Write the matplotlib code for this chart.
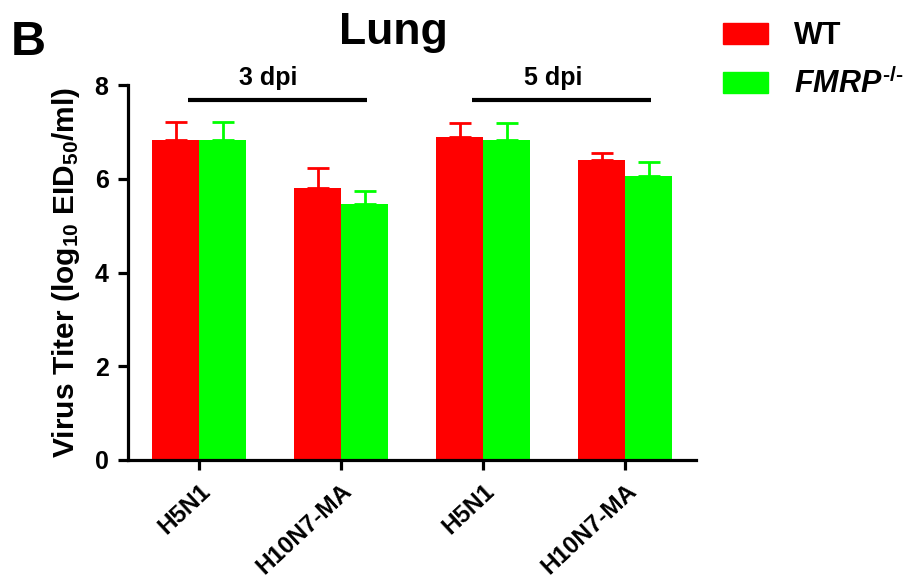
import numpy as np
import matplotlib
matplotlib.use("Agg")
import matplotlib.pyplot as plt
from matplotlib.patches import Patch

plt.rcParams["font.family"] = ["Liberation Sans", "DejaVu Sans"]
plt.rcParams["font.weight"] = "bold"
plt.rcParams["mathtext.fontset"] = "custom"
plt.rcParams["mathtext.rm"] = "Liberation Sans:bold"
plt.rcParams["mathtext.it"] = "Liberation Sans:italic:bold"
plt.rcParams["mathtext.bf"] = "Liberation Sans:bold"

# data
viruses = ["H5N1", "H10N7-MA", "H5N1", "H10N7-MA"]
timepoints = ["3 dpi", "5 dpi"]
wt_mean = [6.82, 5.81, 6.89, 6.40]
wt_err = [0.40, 0.41, 0.31, 0.16]
ko_mean = [6.82, 5.47, 6.82, 6.06]
ko_err = [0.40, 0.27, 0.38, 0.30]

red = "#ff0000"
green = "#00ff00"

fig = plt.figure(figsize=(9.21, 5.88), dpi=100)
ax = fig.add_axes([0.139, 0.2177, 0.617, 0.6377])

x = np.arange(len(viruses))
w = 0.331
ax.bar(x - w / 2, wt_mean, w, color=red)
ax.bar(x + w / 2, ko_mean, w, color=green)
ax.errorbar(x - w / 2, wt_mean, yerr=[np.zeros(4), wt_err], fmt="none",
            ecolor=red, elinewidth=2, capsize=8, capthick=2)
ax.errorbar(x + w / 2, ko_mean, yerr=[np.zeros(4), ko_err], fmt="none",
            ecolor=green, elinewidth=2, capsize=8, capthick=2)

# time point brackets
for i, tp in enumerate(timepoints):
    x0 = 2 * i - 0.08
    x1 = 2 * i + 1.18
    ax.plot([x0, x1], [7.67, 7.67], color="black", lw=3, clip_on=False,
            solid_capstyle="butt")
    ax.text((x0 + x1) / 2 - 0.06, 8.15, tp, ha="center", va="center",
            fontsize=18, fontweight="bold", clip_on=False)

ax.set_xlim(-0.5, 3.5)
ax.set_ylim(0, 8)
ax.set_yticks([0, 2, 4, 6, 8])
ax.set_xticks(x)
ax.set_xticklabels(viruses, rotation=43, ha="right", rotation_mode="anchor",
                   fontsize=17.5, fontweight="bold")
for lab in ax.get_yticklabels():
    lab.set_fontsize(18)
    lab.set_fontweight("bold")
for s in ["top", "right"]:
    ax.spines[s].set_visible(False)
for s in ["left", "bottom"]:
    ax.spines[s].set_linewidth(2.3)
ax.tick_params(width=2.3, length=7)
ax.tick_params(axis="y", pad=7)
ax.tick_params(axis="x", pad=7)
ax.set_ylabel("Virus Titer (log$_{10}$ EID$_{50}$/ml)", fontsize=21.5,
              fontweight="bold", labelpad=9)

fig.text(0.427, 0.945, "Lung", fontsize=32, fontweight="bold",
         ha="center", va="center")
fig.text(0.012, 0.927, "B", fontsize=35, fontweight="bold", va="center")

handles = [Patch(color=red), Patch(color=green)]
fig.legend(handles, ["WT", r"$\mathit{FMRP}^{\mathit{\text{-/-}}}$"],
           loc="upper left", bbox_to_anchor=(0.762, 1.0), frameon=False,
           fontsize=22, handlelength=1.47, handleheight=0.69,
           handletextpad=0.85, labelspacing=0.55, borderpad=0.2)

fig.savefig("out.png", dpi=100)
